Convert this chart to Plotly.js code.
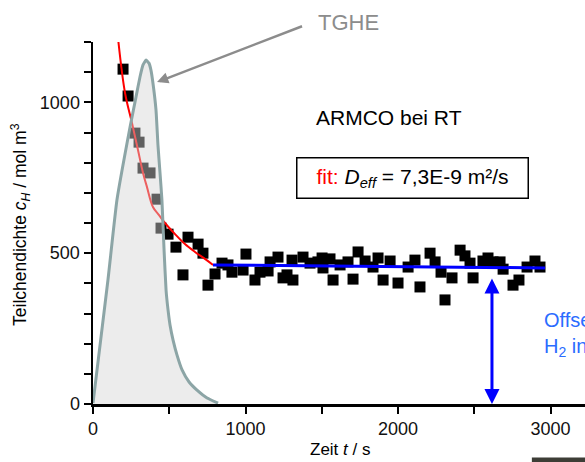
<!DOCTYPE html>
<html><head><meta charset="utf-8">
<script src="https://cdn.plot.ly/plotly-3.0.1.min.js"></script>
<style>html,body{margin:0;padding:0;background:#fff;}#chart{width:585px;height:462px;}</style>
</head><body><div id="chart"></div>
<script>
// measured hydrogen concentration (time in s, c_H in mol m^-3)
const measTime = [197,230,275,302,328,374,420,446,492,544,590,623,689,721,754,800,846,885,911,984,1003,1062,1095,1148,1161,1213,1246,1272,1305,1311,1377,1423,1475,1502,1508,1554,1574,1620,1672,1705,1738,1784,1836,1869,1902,1948,2000,2066,2111,2144,2210,2243,2282,2308,2354,2407,2439,2472,2492,2557,2590,2623,2669,2689,2754,2793,2846,2898,2931];
const measConc = [1110,1021,898,868,782,766,679,583,563,520,428,553,530,500,394,431,467,461,437,444,497,411,437,441,471,487,418,428,477,411,487,467,471,484,451,481,411,461,471,414,504,474,454,484,411,474,401,454,477,388,500,471,437,345,418,510,491,467,418,474,484,471,471,447,394,411,454,474,454];
// diffusion fit (red)
const fitTime = [164,210,256,295,328,354,393,433,472,538,603,669,734,787];
const fitConc = [1213,1031,931,842,766,719,653,626,600,563,530,504,481,461];
// offset level (blue)
const offsetTime = [787,2964];
const offsetConc = [461,451];
// TGHE signal curve
const tgheTime = [0,98,157,243,282,308,328,348,367,380,393,413,426,439,452,466,479,492,505,525,551,584,630,682,748,820];
const tgheSignal = [3,411,676,918,1018,1084,1124,1140,1130,1107,1064,975,858,769,676,510,378,312,262,212,162,113,73,46,20,3];
// offset arrow
const arrowTime = 2616;
const arrowTop = 444;
// ticks
const xTickVals = [0,1000,2000,3000];
const xTickText = ['0','1000','2000','3000'];
const yTickVals = [0,500,1000];
const yTickText = ['0','500','1000'];

const FONT = 'Liberation Sans, Arial, sans-serif';

const traces = [
  {x: measTime, y: measConc, type:'scatter', mode:'markers',
   marker:{symbol:'square', size:11, color:'#000'}, hoverinfo:'skip'},
  {x: fitTime, y: fitConc, type:'scatter', mode:'lines',
   line:{color:'#ff0000', width:2, shape:'spline'}, hoverinfo:'skip'},
  {x: offsetTime, y: offsetConc, type:'scatter', mode:'lines',
   line:{color:'#0000ff', width:3}, hoverinfo:'skip'},
  {x: tgheTime, y: tgheSignal, type:'scatter', mode:'lines', fill:'tozeroy',
   fillcolor:'rgba(213,213,213,0.45)',
   line:{color:'#8ca5a6', width:3, shape:'spline', smoothing:0.4}, hoverinfo:'skip'}
];

const axisCommon = {
  showline:true, linecolor:'#000', linewidth:2.5, mirror:false,
  ticks:'outside', ticklen:7, tickwidth:2, tickcolor:'#000',
  showgrid:false, zeroline:false, fixedrange:true,
  tickfont:{family:FONT, size:18, color:'#111'}
};

const layout = {
  width:585, height:462,
  margin:{l:93, r:0, t:42, b:58, pad:0},
  paper_bgcolor:'#fff', plot_bgcolor:'#fff',
  showlegend:false,
  font:{family:FONT, color:'#000'},
  xaxis:Object.assign({}, axisCommon, {range:[0,3226], tickmode:'array', tickvals:xTickVals, ticktext:xTickText,
    minor:{tick0:0, dtick:500, ticks:'outside', ticklen:7, tickwidth:2, tickcolor:'#000', showgrid:false}}),
  yaxis:Object.assign({}, axisCommon, {range:[0,1200], tickmode:'array', tickvals:yTickVals, ticktext:yTickText,
    minor:{tick0:0, dtick:100, ticks:'outside', ticklen:7, tickwidth:2, tickcolor:'#000', showgrid:false}}),
  shapes:[
    {type:'rect', xref:'paper', yref:'paper', x0:0.892, x1:1.01, y0:-0.162, y1:-0.148,
     fillcolor:'#3d3d36', line:{width:0}}
  ],
  annotations:[
    {xref:'paper', yref:'paper', x:0, xshift:-72, y:0.4945, xanchor:'center', yanchor:'middle',
     textangle:-90, showarrow:false,
     text:'Teilchendichte <i>c</i><sub><i>H</i></sub> / mol m<sup>3</sup>',
     font:{family:FONT, size:17.5, color:'#000'}},
    {xref:'paper', yref:'paper', x:0.502, y:-0.127, xanchor:'center', yanchor:'middle', showarrow:false,
     text:'Zeit <i>t</i> / s', font:{family:FONT, size:17, color:'#000'}},
    {xref:'paper', yref:'paper', x:0.52, y:1.055, xanchor:'center', yanchor:'middle', showarrow:false,
     text:'TGHE', font:{family:FONT, size:22, color:'#8c8c8c'}},
    {xref:'x', yref:'y', x:420, y:1067, ax:148, ay:-57, showarrow:true, text:' ',
     arrowhead:2, arrowsize:0.9, arrowwidth:2.5, arrowcolor:'#8c8c8c'},
    {xref:'paper', yref:'paper', x:0.602, y:0.791, xanchor:'center', yanchor:'middle', showarrow:false,
     text:'ARMCO bei RT', font:{family:FONT, size:21, color:'#000'}},
    {xref:'paper', yref:'paper', x:0.649, y:0.6236, xanchor:'center', yanchor:'middle', showarrow:false,
     text:'<span style="color:#ff0000">fit:</span> <i>D</i><sub><i>eff</i></sub> = 7,3E-9 m²/s',
     font:{family:FONT, size:21, color:'#000'},
     bordercolor:'#000', borderwidth:1.5, borderpad:2, width:226, height:35, bgcolor:'#fff'},
    {xref:'x', yref:'y', x:arrowTime, y:0, ax:arrowTime, ay:arrowTop, axref:'x', ayref:'y',
     showarrow:true, text:' ', arrowside:'end+start', arrowhead:2, startarrowhead:2,
     arrowsize:1, startarrowsize:1, arrowwidth:3, arrowcolor:'#0000ff'},
    {xref:'paper', yref:'paper', x:0.9126, y:0.193, xanchor:'left', yanchor:'middle', showarrow:false, align:'left',
     text:'Offset<br>H<sub>2</sub> in UHV', font:{family:FONT, size:20, color:'#2b6cff'}}
  ]
};

Plotly.newPlot('chart', traces, layout, {staticPlot:true, displayModeBar:false});
</script>
</body></html>
